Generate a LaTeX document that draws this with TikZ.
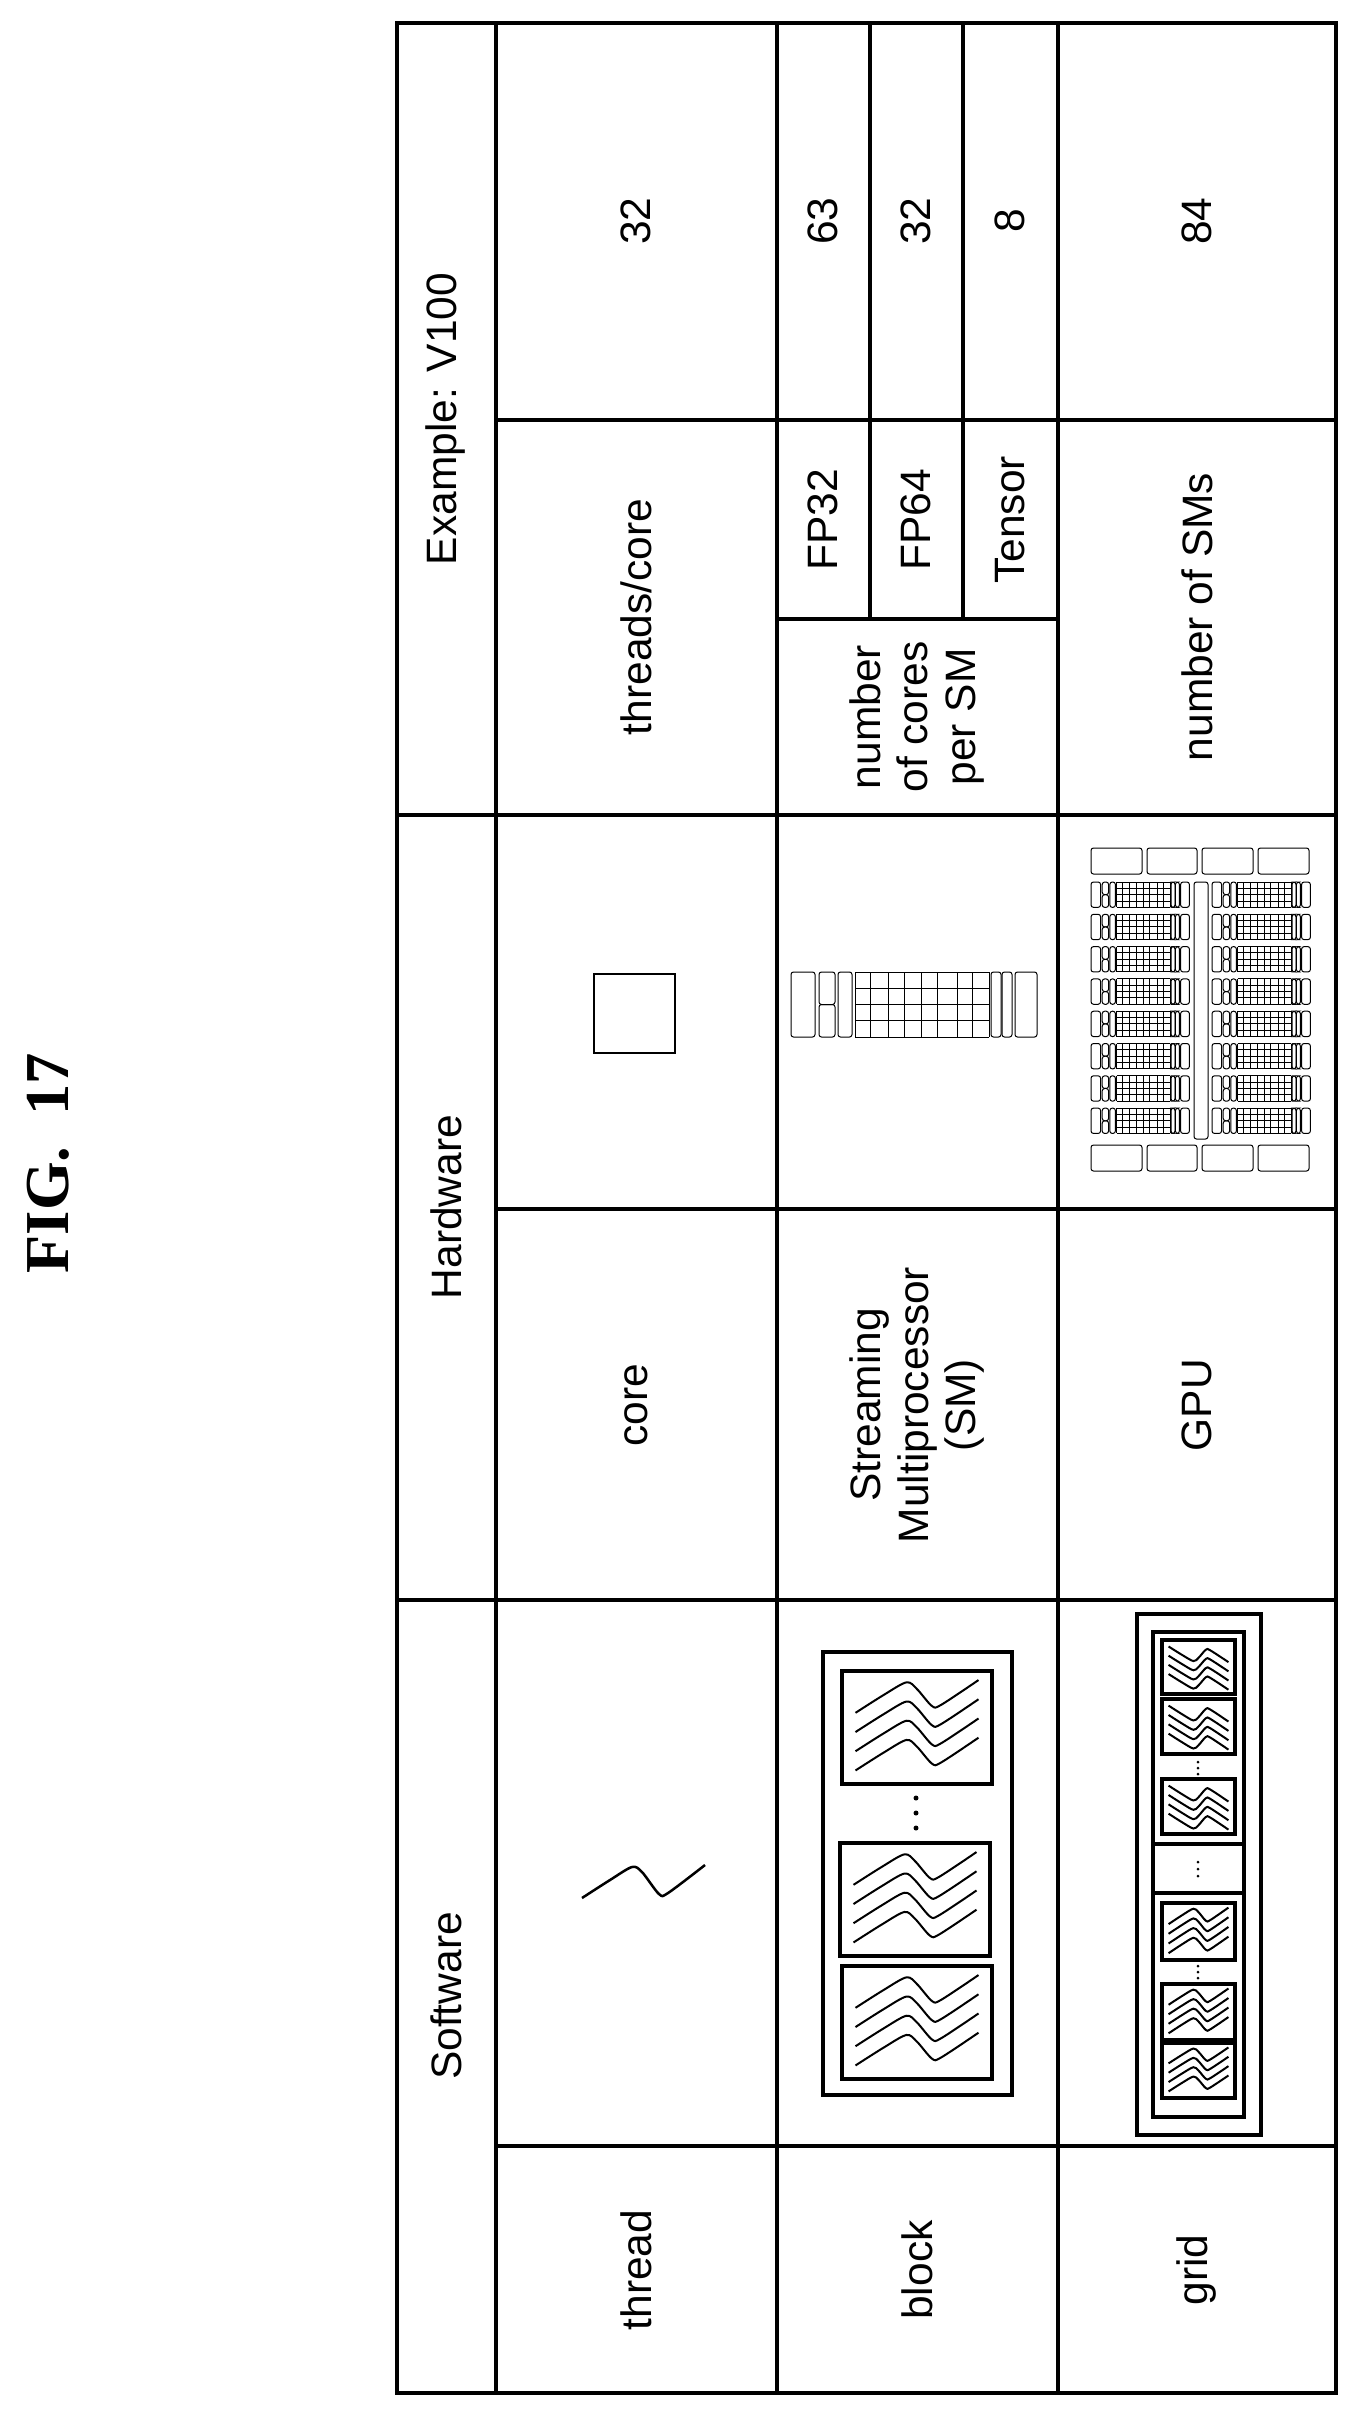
\documentclass[tikz,border=0pt]{standalone}
\usepackage{fontspec}
\setmainfont{Liberation Sans}
\newfontfamily\figfont{Liberation Serif}
\tikzset{
  grid line/.style = {line width=1.4pt},
  lbl/.style = {rotate=90, align=center, inner sep=0pt, font=\fontsize{17}{19}\selectfont},
  part/.style = {line width=0.4pt, rounded corners=1pt},
  wave/.style = {line width=0.8pt},
  frame/.style = {line width=1pt}
}
% one streaming multiprocessor, drawn in a 246 x 65 box
\newcommand{\smunit}[4]{%
  \begin{scope}[shift={(#1,#2)}, xscale=#3, yscale=#4]
    \draw[part] (0,0) rectangle (24,65);
    \draw[part] (28,0) rectangle (44,32.5);
    \draw[part] (28,32.5) rectangle (44,65);
    \draw[part] (47,0) rectangle (61,65);
    \foreach \gx in {64,79,97,113,130,146,166,181,198}
      \draw[line width=0.4pt] (\gx,0) -- (\gx,65);
    \foreach \gy in {0,16.25,32.5,48.75,65}
      \draw[line width=0.4pt] (64,\gy) -- (198,\gy);
    \draw[part] (200,0) rectangle (210,65);
    \draw[part] (211,0) rectangle (221,65);
    \draw[part] (224,0) rectangle (246,65);
  \end{scope}}
% four threads in a box of width #3 and height #4
\newcommand{\threadbox}[5]{%
  \draw[line width=#5] (#1,#2) rectangle ++(#3,#4);
  \begin{scope}[shift={(#1,#2)}, xscale=#3, yscale=#4]
    \foreach \d in {0,0.17,0.34,0.51}
      \draw[wave] plot[smooth] coordinates {(0.09,0.37+\d) (0.28,0.21+\d) (0.43,0.1+\d) (0.5,0.16+\d) (0.6,0.31+\d) (0.66,0.3+\d) (0.91,0.08+\d)};
  \end{scope}}
\newcommand{\threadboxflip}[5]{%
  \draw[line width=#5] (#1,#2) rectangle ++(#3,#4);
  \begin{scope}[shift={(#1,#2+#4)}, xscale=#3, yscale=-#4]
    \foreach \d in {0,0.17,0.34,0.51}
      \draw[wave] plot[smooth] coordinates {(0.09,0.37+\d) (0.28,0.21+\d) (0.43,0.1+\d) (0.5,0.16+\d) (0.6,0.31+\d) (0.66,0.3+\d) (0.91,0.08+\d)};
  \end{scope}}
\begin{document}
\begin{tikzpicture}[x=0.4pt, y=-0.4pt]
\useasboundingbox (0,0) rectangle (1365,2415);

\node[rotate=90, font=\figfont\bfseries\fontsize{25}{28}\selectfont] (fig) at (48,1163) {FIG.~~17};

% table
\draw[line width=1.6pt] (397,23) rectangle (1336,2393);
\foreach \cx in {496,777,1058}
  \draw[grid line] (\cx,23) -- (\cx,2393);
\foreach \cx in {870,963}
  \draw[grid line] (\cx,23) -- (\cx,619);
\foreach \ry in {815,1600}
  \draw[grid line] (397,\ry) -- (1336,\ry);
\foreach \ry in {420,1209,2146}
  \draw[grid line] (496,\ry) -- (1336,\ry);
\draw[grid line] (777,619) -- (1058,619);

% headers
\node[lbl] (example) at (446,419) {Example: V100};
\node[lbl] (hardware) at (446,1207) {Hardware};
\node[lbl] (software) at (446,1996) {Software};

% example values
\node[lbl] (tpc) at (636,221) {32};
\node[lbl] (tpclbl) at (636,617) {threads/core};
\node[lbl] (fp32) at (823,221) {63};
\node[lbl] (fp64) at (916,221) {32};
\node[lbl] (tensor) at (1010,221) {8};
\node[lbl] (fp32lbl) at (823,520) {FP32};
\node[lbl] (fp64lbl) at (916,520) {FP64};
\node[lbl] (tensorlbl) at (1010,520) {Tensor};
\node[lbl] (cores) at (917,717) {number\\of cores\\per SM};
\node[lbl] (sms) at (1197,221) {84};
\node[lbl] (smslbl) at (1197,617) {number of SMs};

% hardware
\draw[line width=0.6pt] (594,974) rectangle (675,1053);
\node[lbl] (core) at (636,1405) {core};
\smunit{791}{972}{1}{1}
\node[lbl] (sm) at (917,1405) {Streaming\\Multiprocessor\\(SM)};
\foreach \bx/\ex in {1091/1142,1147/1197,1202/1253,1258/1309} {
  \draw[part] (\bx,848) rectangle (\ex,874);
  \draw[part] (\bx,1145) rectangle (\ex,1171);
}
\foreach \r in {0,...,7} {
  \smunit{1091}{882+\r*32.3}{0.4}{0.39}
  \smunit{1212}{882+\r*32.3}{0.4}{0.39}
}
\draw[part] (1194,882) rectangle (1208,1139);
\node[lbl] (gpu) at (1197,1405) {GPU};

% software
\draw[line width=1pt] plot[smooth] coordinates {(582,1898) (610,1880) (632,1867) (642,1872) (659,1894) (668,1893) (705,1865)};
\node[lbl] (thread) at (636,2270) {thread};

\draw[frame, line width=1.4pt] (823,1652) rectangle (1012,2095);
\threadbox{842}{1671}{150}{113}{1.4pt}
\foreach \dy in {1798,1813,1828}
  \fill (916,\dy) circle (2.5);
\threadbox{840}{1843}{150}{113}{1.4pt}
\threadbox{842}{1966}{150}{113}{1.4pt}
\node[lbl] (block) at (917,2270) {block};

\draw[line width=1.4pt] (1137,1614) rectangle (1261,2135);
\draw[line width=1.4pt] (1153,1632) rectangle (1244,2117);
\threadboxflip{1162}{1640}{73}{54}{1.6pt}
\threadboxflip{1162}{1699}{73}{55}{1.6pt}
\foreach \dy in {1762,1768,1774}
  \fill (1198,\dy) circle (1.5);
\threadboxflip{1162}{1779}{73}{55}{1.6pt}
\draw[line width=1.4pt] (1153,1844) -- (1244,1844) (1153,1893) -- (1244,1893);
\foreach \dy in {1862,1869,1876}
  \fill (1198,\dy) circle (1.5);
\threadbox{1162}{1903}{73}{57}{1.6pt}
\foreach \dy in {1966,1972,1978}
  \fill (1198,\dy) circle (1.5);
\threadbox{1162}{1984}{73}{56}{1.6pt}
\threadbox{1162}{2043}{73}{55}{1.6pt}
\node[lbl] (grid) at (1197,2270) {grid};
\end{tikzpicture}
\end{document}
